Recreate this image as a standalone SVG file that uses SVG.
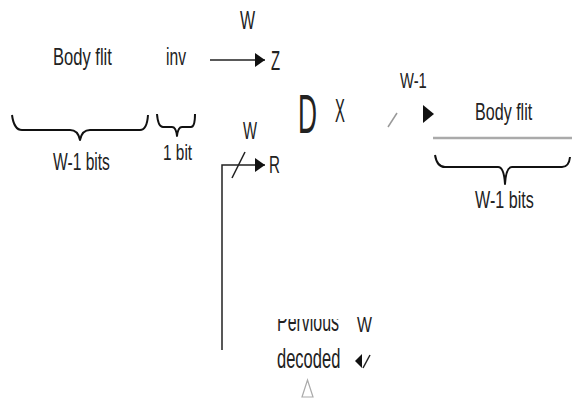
<svg xmlns="http://www.w3.org/2000/svg" width="572" height="400" viewBox="0 0 572 400">
  <style>
    text { font-family: "Liberation Sans", Arial, sans-serif; fill: #222; }
    .ln { stroke: #222; stroke-width: 1.5; fill: none; }
    .brace { stroke: #111; stroke-width: 2; fill: none; stroke-linejoin: round; }
    .gray { stroke: #999; stroke-width: 1.5; fill: none; }
    .head { fill: #111; }
  </style>
  <defs>
    <marker id="arr" viewBox="0 0 10 14" refX="10" refY="7" markerWidth="10" markerHeight="14" markerUnits="userSpaceOnUse" orient="auto">
      <path d="M0,0 L10,7 L0,14 Z" fill="#111"/>
    </marker>
    <clipPath id="clipPerv">
      <rect x="260" y="319" width="95" height="20"/>
    </clipPath>
  </defs>
  <rect width="572" height="400" fill="#fff"/>

  <g id="connectors">
    <line class="ln" x1="210" y1="60" x2="265" y2="60" marker-end="url(#arr)"/>
    <polyline class="ln" points="222,350 222,165 265,165" marker-end="url(#arr)"/>
    <line class="ln" x1="232" y1="178" x2="245" y2="152"/>
    <line class="gray" x1="388" y1="127" x2="397" y2="113"/>
    <polygon class="head" points="423,105 434,114 423,123"/>
    <polygon class="head" points="362,354 355,361 362,368"/>
    <line class="ln" x1="363" y1="368" x2="370" y2="355"/>
  </g>

  <g id="left-flit">
    <text transform="translate(53,65) scale(0.72,1)" font-size="23">Body flit</text>
    <path class="brace" stroke-width="1.5" d="M12,115 Q14,130 22,130 L70,130 Q78,130 80,140 Q82,130 90,130 L140,130 Q147,130 148,115"/>
    <text transform="translate(53,170) scale(0.65,1)" font-size="24">W-1 bits</text>
  </g>

  <g id="inv-bit">
    <text transform="translate(166,65) scale(0.68,1)" font-size="23">inv</text>
    <path class="brace" d="M157,114 Q158,127 163,127 L172,127 Q176,127 177,136 Q178,127 182,127 L191,127 Q195,127 195,114"/>
    <text transform="translate(163,160) scale(0.7,1)" font-size="22">1 bit</text>
  </g>

  <g id="z-out">
    <text transform="translate(240,29) scale(0.64,1)" font-size="25">W</text>
    <text transform="translate(271,70) scale(0.55,1)" font-size="27">Z</text>
  </g>

  <g id="r-out">
    <text transform="translate(243,139) scale(0.645,1)" font-size="23">W</text>
    <text transform="translate(269,173) scale(0.66,1)" font-size="23">R</text>
  </g>

  <g id="decoder">
    <text transform="translate(298,133) scale(0.47,1)" font-size="56">D</text>
    <text transform="translate(335,122) scale(0.45,1)" font-size="33">X</text>
    <text transform="translate(400,88) scale(0.67,1)" font-size="22">W-1</text>
  </g>

  <g id="right-flit">
    <text transform="translate(475,120) scale(0.7,1)" font-size="23">Body flit</text>
    <line x1="433" y1="138" x2="572" y2="138" stroke="#aaa" stroke-width="2.5"/>
    <path class="brace" d="M435,155 Q437,167 445,167 L498,167 Q504,167 505,184 Q506,167 512,167 L562,167 Q569,167 570,157"/>
    <text transform="translate(475,208) scale(0.7,1)" font-size="23">W-1 bits</text>
  </g>

  <g id="previous-decoded">
    <g clip-path="url(#clipPerv)">
      <text transform="translate(277,331) scale(0.57,1)" font-size="28">Pervious</text>
    </g>
    <text transform="translate(277,368) scale(0.59,1)" font-size="28">decoded</text>
    <text transform="translate(357,332) scale(0.72,1)" font-size="22">W</text>
    <polygon points="302,397 307.5,380 313,397" fill="none" stroke="#aaa" stroke-width="1.2"/>
  </g>
</svg>
